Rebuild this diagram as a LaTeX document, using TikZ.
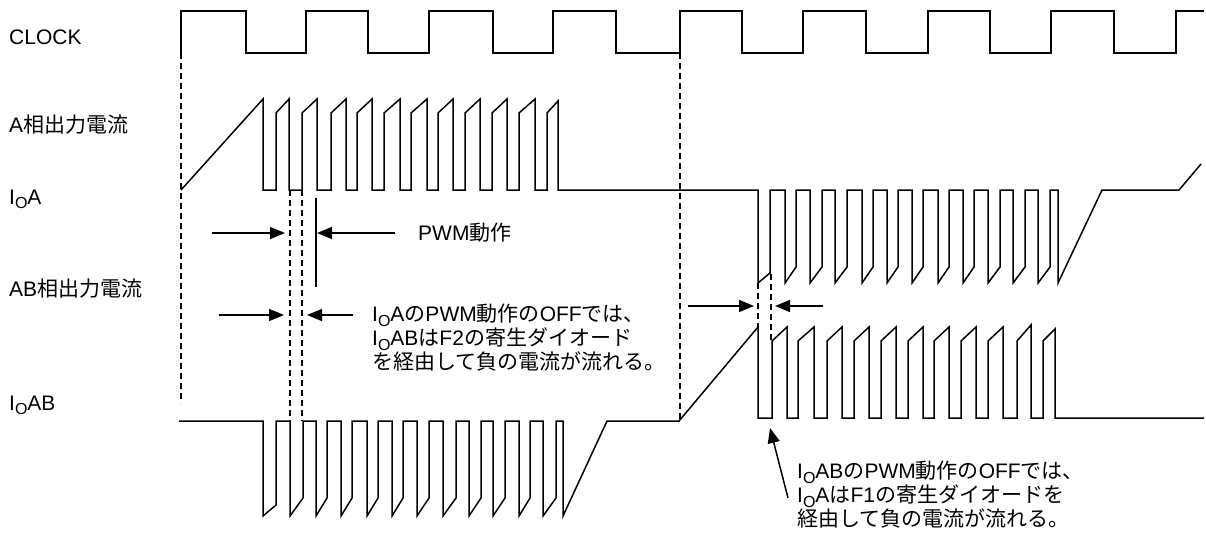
\documentclass[tikz,border=0pt]{standalone}
\usepackage{fontspec}
\setmainfont{Liberation Sans}
\newfontfamily\jp{Noto Sans CJK JP}
\usetikzlibrary{arrows.meta,positioning}
\newcommand{\Io}{I\raisebox{-0.2em}{\fontsize{16}{16}\selectfont O}}
\tikzset{
  wave/.style={
    line width=1.5pt,
    line join=miter
  },
  guide/.style={
    line width=1.1pt,
    dash pattern=on 6pt off 4pt
  },
  dimarrow/.style={
    -{Triangle[length=15pt,width=12pt]},
    line width=1.5pt
  },
  siglabel/.style={
    anchor=base west,
    inner sep=0pt,
    font=\fontsize{21}{24}\selectfont
  },
  notetext/.style={
    anchor=west,
    inner sep=0pt,
    align=left,
    font=\fontsize{21}{24}\selectfont
  }
}

\begin{document}
\begin{tikzpicture}[x=1pt, y=-1pt]
\useasboundingbox (0,0) rectangle (1206,541);
% signal names
\node[siglabel] (clk) at (9,44) {CLOCK};
\node[siglabel] (aout) at (9,132) {A{\jp 相出力電流}};
\node[siglabel] (ioa) at (9,204) {\Io A};
\node[siglabel] (about) at (9,296) {AB{\jp 相出力電流}};
\node[siglabel] (ioab) at (9,410) {\Io AB};
% clock
\draw[wave] (181,53)
  foreach \r/\f/\n in {181/246/306, 306/368/429, 429/493/553, 553/616/680,
                       680/742/803, 803/866/928, 928/990/1051, 1051/1114/1176}
  { -- (\r,11) -- (\f,11) -- (\f,53) -- (\n,53) }
  -- (1176,11) -- (1204,11);
% IoA
\draw[wave] (181,190) -- (263,99)
  foreach \a/\b/\n/\p in {263/276/289/99, 289/302/317/99, 317/331/346/99, 346/357/372/99,
                          372/384/400/99, 400/411/427/99, 427/438/453/99, 453/465/480/99,
                          480/492/507/99, 507/519/535/99, 535/547/558/101}
  { -- (\a,190) -- (\b,190) -- (\b,113) -- (\n,\p) }
  -- (558,190) -- (758,190)
  foreach \a/\b/\n/\p in {758/770/785/273, 785/796/810/267, 810/822/835/267, 835/847/862/267,
                          862/873/887/267, 887/898/912/267, 912/923/938/267, 938/949/963/267,
                          963/974/988/267, 988/1000/1013/267, 1013/1025/1038/267, 1038/1050/1058/267}
  { -- (\a,283) -- (\b,\p) -- (\b,190) -- (\n,190) }
  -- (1058,283) -- (1102,190) -- (1179,190) -- (1201,164);
% IoAB
\draw[wave] (179,421) -- (263,421)
  foreach \a/\b/\n/\p in {263/276/290/505, 290/303/316/498, 316/327/341/498, 341/352/367/498,
                          367/378/392/498, 392/403/417/498, 417/429/443/498, 443/456/469/498,
                          469/481/493/498, 493/505/519/498, 519/530/543/498, 543/556/563/498}
  { -- (\a,516) -- (\b,\p) -- (\b,421) -- (\n,421) }
  -- (563,516) -- (607,421) -- (679,421) -- (758,327)
  foreach \a/\b/\n/\p in {758/772/787/327, 787/798/814/327, 814/827/842/327, 842/854/869/327,
                          869/881/896/327, 896/908/923/327, 923/934/949/327, 949/961/976/327,
                          976/988/1003/327, 1003/1017/1031/325, 1031/1043/1055/329}
  { -- (\a,418) -- (\b,418) -- (\b,341) -- (\n,\p) }
  -- (1055,418) -- (1204,418);
% guides
\draw[guide] (181,53) -- (181,403);
\draw[guide] (680,53) -- (680,421);
\draw[guide] (290,190) -- (290,421);
\draw[guide] (302,190) -- (302,421);
\draw[guide] (758,283) -- (758,327);
\draw[guide] (771,274) -- (771,342);
\draw[wave] (316,198) -- (316,287);
% widths
\coordinate (pwmL) at (212,233);
\coordinate (pwmLt) at (285,233);
\coordinate (pwmR) at (395,233);
\coordinate (pwmRt) at (317,233);
\coordinate (offL) at (219,315);
\coordinate (offLt) at (284,315);
\coordinate (offR) at (353,315);
\coordinate (offRt) at (307,315);
\coordinate (abL) at (688,306);
\coordinate (abLt) at (754,306);
\coordinate (abR) at (823,306);
\coordinate (abRt) at (775,306);
\coordinate (f1tail) at (788,498);
\coordinate (f1tip) at (770,428);
\draw[dimarrow] (pwmL) -- (pwmLt);
\draw[dimarrow] (pwmR) -- (pwmRt);
\draw[dimarrow] (offL) -- (offLt);
\draw[dimarrow] (offR) -- (offRt);
\draw[dimarrow] (abL) -- (abLt);
\draw[dimarrow] (abR) -- (abRt);
\draw[dimarrow] (f1tail) -- (f1tip);
% notes
\node[notetext] (pwm) at (418,233) {PWM{\jp 動作}};
\node[notetext] (noteF2) at (372,338)
  {\Io A{\jp の}PWM{\jp 動作の}OFF{\jp では、}\\
   \Io AB{\jp は}F2{\jp の寄生ダイオード}\\
   {\jp を経由して負の電流が流れる。}};
\node[notetext] (noteF1) at (797,495)
  {\Io AB{\jp の}PWM{\jp 動作の}OFF{\jp では、}\\
   \Io A{\jp は}F1{\jp の寄生ダイオードを}\\
   {\jp 経由して負の電流が流れる。}};
\end{tikzpicture}
\end{document}
